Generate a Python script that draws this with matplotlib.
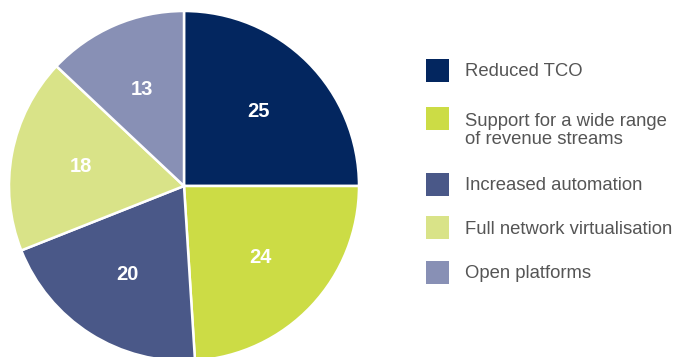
import matplotlib.pyplot as plt
from matplotlib.patches import Rectangle

plt.rcParams['font.family'] = ['Liberation Sans', 'DejaVu Sans']

categories = ['Reduced TCO', 'Support for a wide range\nof revenue streams',
              'Increased automation', 'Full network virtualisation', 'Open platforms']
values = [25, 24, 20, 18, 13]
colors = ['#03265f', '#ccdc45', '#4a5888', '#d9e388', '#8890b5']

fig = plt.figure(figsize=(6.77, 3.57), dpi=100)
ax = fig.add_axes([0, 0, 1, 1])

wedges, texts = ax.pie(values, colors=colors, startangle=90, counterclock=False,
                       center=(184, 171), radius=175,
                       labels=[str(v) for v in values], labeldistance=0.6,
                       wedgeprops=dict(edgecolor='white', linewidth=1.8),
                       textprops=dict(color='white', fontsize=14.5, fontweight='bold',
                                      ha='center', va='center'))

ax.set_xlim(0, 677)
ax.set_ylim(0, 357)
ax.set_aspect('equal')
ax.axis('off')

# legend drawn by hand
legend_y = [286.5, 238.5, 172.5, 129.5, 84.5]  # patch centres (from bottom)
for y, c, lab in zip(legend_y, colors, categories):
    ax.add_patch(Rectangle((426, y - 11.5), 23, 23, color=c, lw=0))
    # baseline sits on the last line, so push multi-line labels down
    ax.text(465, y - 6 - 20 * lab.count('\n'), lab, ha='left', va='baseline',
            fontsize=13.3, color='#555555', linespacing=1.15)

fig.savefig('out.png', dpi=100)
